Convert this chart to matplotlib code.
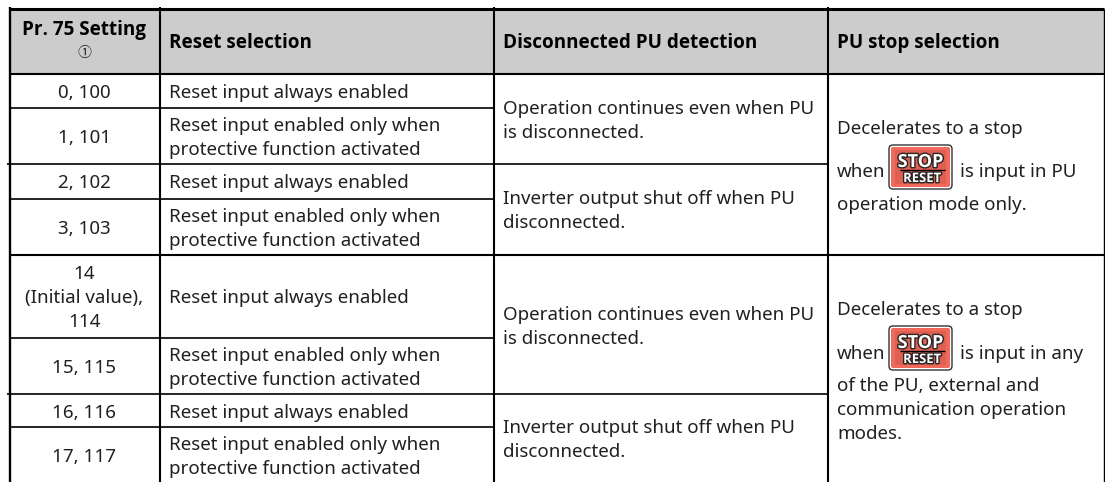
import matplotlib
matplotlib.use("Agg")
import matplotlib.pyplot as plt
import matplotlib.patheffects as pe
from matplotlib.patches import FancyBboxPatch, Rectangle

plt.rcParams['font.family'] = ['Noto Sans', 'DejaVu Sans', 'Noto Sans CJK JP']

headers = ["Pr. 75 Setting", "Reset selection", "Disconnected PU detection", "PU stop selection"]
header_note = "\u2460"
settings = ["0, 100", "1, 101", "2, 102", "3, 103", "14\n(Initial value),\n114", "15, 115", "16, 116", "17, 117"]
always = "Reset input always enabled"
only = "Reset input enabled only when\nprotective function activated"
reset_sel = [always, only, always, only, always, only, always, only]
keep_on = "Operation continues even when PU\nis disconnected."
shut_off = "Inverter output shut off when PU\ndisconnected."
pu_detect = [keep_on, shut_off, keep_on, shut_off]
stop_top = ["Decelerates to a stop", "when", "is input in PU", "operation mode only."]
stop_bottom = ["Decelerates to a stop", "when", "is input in any", "of the PU, external and",
               "communication operation", "modes."]

# layout in pixels of the 1105x482 picture
col_x = [10, 160, 494, 828, 1104]
row_y = [9, 73.5, 108, 163.7, 198.7, 255, 337.7, 394, 427, 482]
pitch = 24
fs = 13.5
fs_head = 13.6
bold_font = ["Open Sans", "DejaVu Sans"]
ink = "#231f20"

fig = plt.figure(figsize=(11.05, 4.82), dpi=100)
ax = fig.add_axes([0, 0, 1, 1])
ax.set_xlim(0, 1105)
ax.set_ylim(482, 0)
ax.axis("off")

ax.add_patch(Rectangle((col_x[0], row_y[0]), col_x[4] - col_x[0], row_y[1] - row_y[0], color="#cccccc", lw=0))

def hline(y, x0, x1, lw=1.5):
    ax.plot([x0, x1], [y, y], color="black", lw=lw, solid_capstyle="butt")

def vline(x, y0, y1, lw=1.5):
    ax.plot([x, x], [y0, y1], color="black", lw=lw, solid_capstyle="butt")

# table rules
hline(row_y[0], col_x[0], col_x[4], lw=2.2)
hline(row_y[1], col_x[0], col_x[4])
for i in [2, 4, 6, 8]:
    hline(row_y[i], col_x[0], col_x[2] + 1, lw=1.2)
for i in [3, 7]:
    hline(row_y[i], 7, col_x[3], lw=1.2)
hline(row_y[5], col_x[0], col_x[4])
vline(col_x[0], 7, 482, lw=1.7)
vline(col_x[1], 7, 482)
vline(col_x[2], 7, 482)
vline(col_x[3], 7, 482)
vline(col_x[4], 9, 482, lw=1)

def cell(x, y, txt, ha="left"):
    lines = txt.split("\n")
    for i, line in enumerate(lines):
        base = y + 7 + (i - (len(lines) - 1) / 2) * pitch
        ax.text(x, base, line, ha=ha, va="baseline", fontsize=fs, color=ink)

# header
ax.text(84.5, 35, headers[0], ha="center", va="baseline", fontsize=fs_head, fontweight="bold", family=bold_font, color="black")
ax.text(84.5, 57, header_note, ha="center", va="baseline", fontsize=10, color=ink,
        family=["Noto Sans CJK JP", "DejaVu Sans"])
ax.text(169, 48, headers[1], va="baseline", fontsize=fs_head, fontweight="bold", family=bold_font, color="black")
ax.text(503, 48, headers[2], va="baseline", fontsize=fs_head, fontweight="bold", family=bold_font, color="black")
ax.text(837, 47.6, headers[3], va="baseline", fontsize=fs_head, fontweight="bold", family=bold_font, color="black")

# body rows
for i in range(8):
    mid = (row_y[i + 1] + row_y[i + 2]) / 2
    cell(84.5, mid, settings[i], ha="center")
    cell(169, mid, reset_sel[i])

for i, (a, b) in enumerate([(1, 3), (3, 5), (5, 7), (7, 9)]):
    cell(503, (row_y[a] + row_y[b]) / 2, pu_detect[i])

def stop_key(x, y, w=63, h=44):
    ax.add_patch(FancyBboxPatch((x, y), w, h, boxstyle="round,pad=0,rounding_size=4",
                                fc="white", ec="#333333", lw=1))
    ax.add_patch(FancyBboxPatch((x + 2, y + 2), w - 4, h - 4, boxstyle="round,pad=0,rounding_size=2",
                                fc="#f0695a", ec="none", lw=0))
    ax.add_patch(Rectangle((x + 6, y + 5), w - 12, h - 10, fc="#df5f52", ec="none", lw=0))
    outline = [pe.withStroke(linewidth=2, foreground="#2b2523")]
    ax.text(x + w / 2, y + 22, "STOP", ha="center", va="baseline", fontsize=13, fontweight="bold",
            family=bold_font, color="white", path_effects=outline)
    hline(y + 24.5, x + 11, x + w - 7, lw=1)
    ax.text(x + w / 2 + 1.5, y + 37, "RESET", ha="center", va="baseline", fontsize=9.4, fontweight="bold",
            family=bold_font, color="white", path_effects=outline)

# stop selection column
ax.text(837, 134, stop_top[0], fontsize=fs, color=ink)
ax.text(837, 177, stop_top[1], fontsize=fs, color=ink)
stop_key(889, 145)
ax.text(960, 177, stop_top[2], fontsize=fs, color=ink)
ax.text(837, 210, stop_top[3], fontsize=fs, color=ink)

ax.text(837, 315, stop_bottom[0], fontsize=fs, color=ink)
ax.text(837, 359, stop_bottom[1], fontsize=fs, color=ink)
stop_key(889, 326)
ax.text(960, 359, stop_bottom[2], fontsize=fs, color=ink)
ax.text(837, 391, stop_bottom[3], fontsize=fs, color=ink)
ax.text(837, 415, stop_bottom[4], fontsize=fs, color=ink)
ax.text(837, 439, stop_bottom[5], fontsize=fs, color=ink)

fig.savefig("out.png", dpi=100)
